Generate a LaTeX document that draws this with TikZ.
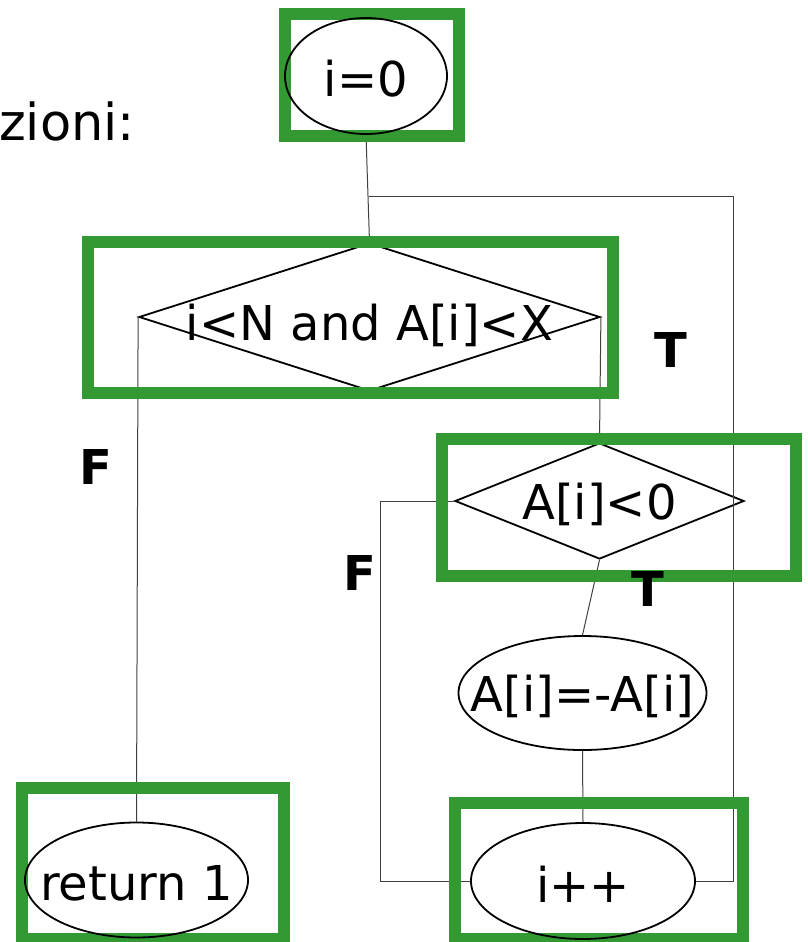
\documentclass[tikz,border=0pt]{standalone}
\usepackage{fontspec}
\setmainfont{DejaVu Sans}
\usetikzlibrary{shapes.geometric,backgrounds}
\definecolor{hlgreen}{RGB}{51,153,51}

\begin{document}
\begin{tikzpicture}[x=1pt, y=-1pt, font=\fontsize{48}{58}\selectfont,
    frame/.style={draw=hlgreen, line width=12pt, inner sep=0pt},
    oval/.style={draw, ellipse, line width=1.8pt, inner sep=0pt},
    test/.style={draw, diamond, line width=1.8pt, inner sep=0pt},
    tf/.style={font=\fontsize{48}{58}\selectfont\bfseries},
    wire/.style={black!75, line width=1pt},
    every label/.style={yshift=-3pt}]
  \useasboundingbox (0,0) rectangle (807,942);
  \node[anchor=base west, inner sep=0pt, font=\fontsize{51}{60}\selectfont] (title) at (-1,140) {zioni:};

  % green frames
  \node[frame, minimum width=174pt, minimum height=121pt] (f0) at (371.5,75) {};
  \node[frame, minimum width=525pt, minimum height=151pt] (f1) at (350,317.5) {};
  \node[frame, minimum width=354pt, minimum height=137pt] (f2) at (619,507.5) {};
  \node[frame, minimum width=262pt, minimum height=151pt] (f3) at (153,863.5) {};
  \node[frame, minimum width=288pt, minimum height=136pt] (f4) at (599,871) {};

  % blocks
  \node[oval, minimum width=162pt, minimum height=116pt, label=center:{i=0}] (init) at (366,76) {};
  \node[oval, minimum width=248pt, minimum height=114pt, label=center:{A[i]=-A[i]}] (flip) at (582.5,693) {};
  \node[oval, minimum width=223pt, minimum height=115pt, label=center:{return 1}] (ret) at (136.5,880) {};
  \node[oval, minimum width=224pt, minimum height=116pt, label=center:{i++}] (inc) at (583,881) {};
  \begin{scope}[on background layer]
    \node[test, minimum width=461pt, minimum height=148pt, label={[yshift=-5pt]center:{i<N and A[i]<X}}] (cond) at (369.5,317) {};
    \node[test, minimum width=289pt, minimum height=116pt, label=center:{A[i]<0}] (neg) at (599.5,501) {};
  \end{scope}

  % T / F
  \node[tf] (tTop) at (671,350) {T};
  \node[tf] (fTop) at (96,467) {F};
  \node[tf] (fNeg) at (360,573) {F};
  \node[tf] (tNeg) at (648,589) {T};

  \coordinate (join) at (369,196);
  \coordinate (back) at (733,196);
  \begin{scope}[on background layer]
    \draw[wire] (init.south) -- (cond.north);
    \draw[wire] (inc.east) -| (back) -- (join);
    \draw[wire] (cond.west) -- (ret.north);
    \draw[wire] (cond.east) -- (neg.north);
    \draw[wire] (neg.west) -- ++(-74,0) |- (inc.west);
    \draw[wire] (neg.south) -- (flip.north);
    \draw[wire] (flip.south) -- (inc.north);
  \end{scope}
\end{tikzpicture}
\end{document}
